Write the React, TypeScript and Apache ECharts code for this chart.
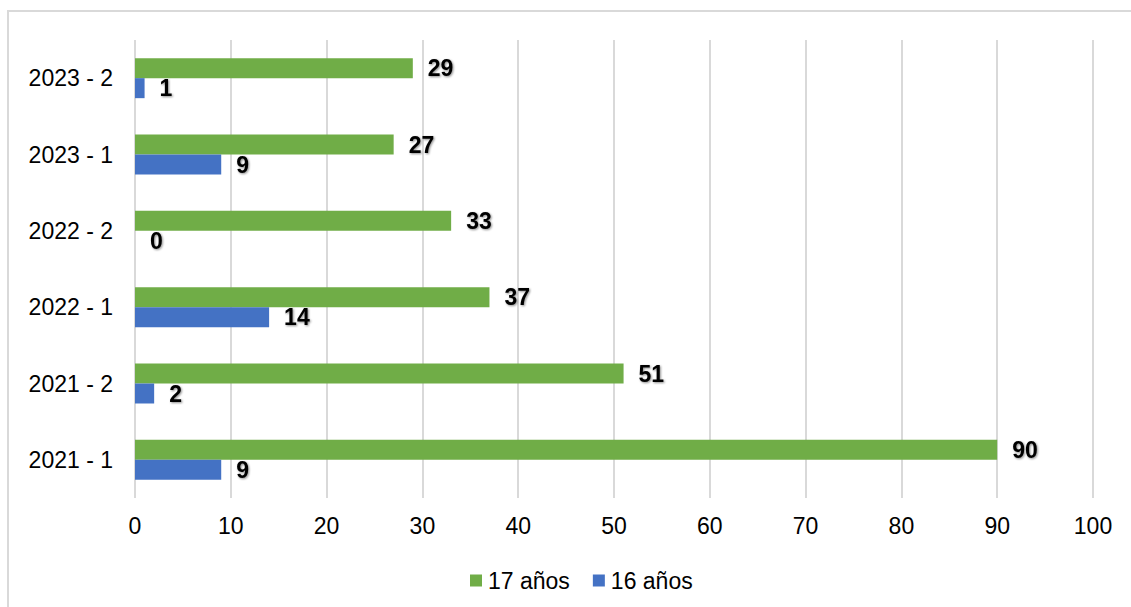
import React, { useEffect, useRef } from "react";
import * as echarts from "echarts";

const categories = ["2021 - 1", "2021 - 2", "2022 - 1", "2022 - 2", "2023 - 1", "2023 - 2"];
const values17 = [90, 51, 37, 33, 27, 29];
const values16 = [9, 2, 14, 0, 9, 1];
const seriesNames = ["17 años", "16 años"];
const xTicks = { min: 0, max: 100, interval: 10 };

const FONT = "'Liberation Sans', Arial, sans-serif";

export default function App() {
  const ref = useRef<HTMLDivElement>(null);
  useEffect(() => {
    if (!ref.current) return;
    const chart = echarts.init(ref.current, null, { renderer: "svg" });
    const label = {
      show: true,
      position: "right",
      distance: 15,
      fontFamily: FONT,
      fontSize: 23,
      fontWeight: "bold",
      color: "#000",
      textShadowColor: "rgba(0,0,0,0.45)",
      textShadowBlur: 2,
      textShadowOffsetX: 1,
      textShadowOffsetY: 1,
    };
    chart.setOption({
      animation: false,
      textStyle: { fontFamily: FONT },
      grid: { left: 135, right: 38, top: 40, bottom: 109, containLabel: false },
      legend: {
        data: seriesNames,
        left: 465,
        top: 564,
        itemWidth: 12,
        itemHeight: 12,
        itemGap: 23,
        icon: "rect",
        textStyle: { fontFamily: FONT, fontSize: 23, color: "#000", padding: [0, 0, 0, 1] },
      },
      xAxis: {
        type: "value",
        min: xTicks.min,
        max: xTicks.max,
        interval: xTicks.interval,
        axisLine: { show: false },
        axisTick: { show: false },
        splitLine: { show: true, lineStyle: { color: "#d9d9d9", width: 2 } },
        axisLabel: { fontFamily: FONT, fontSize: 23, color: "#000", margin: 16 },
      },
      yAxis: {
        type: "category",
        data: categories,
        axisLine: { show: false },
        axisTick: { show: false },
        axisLabel: { fontFamily: FONT, fontSize: 23, color: "#000", margin: 22 },
      },
      series: [
        {
          name: seriesNames[0],
          type: "bar",
          data: values17,
          barWidth: 20,
          barGap: "0%",
          itemStyle: { color: "#70AD47" },
          label,
        },
        {
          name: seriesNames[1],
          type: "bar",
          data: values16,
          barWidth: 20,
          barGap: "0%",
          itemStyle: { color: "#4472C4" },
          label,
        },
      ],
    });
    return () => chart.dispose();
  }, []);
  return (
    <div
      style={{
        position: "fixed",
        left: 0,
        top: 0,
        width: 1131,
        height: 607,
        overflow: "hidden",
        background: "#fff",
      }}
    >
      <div
        style={{
          position: "absolute",
          left: 7,
          top: 10,
          width: 1140,
          height: 620,
          border: "2px solid #d9d9d9",
          boxSizing: "border-box",
        }}
      />
      <div ref={ref} style={{ position: "absolute", left: 0, top: 0, width: 1131, height: 607 }} />
    </div>
  );
}
